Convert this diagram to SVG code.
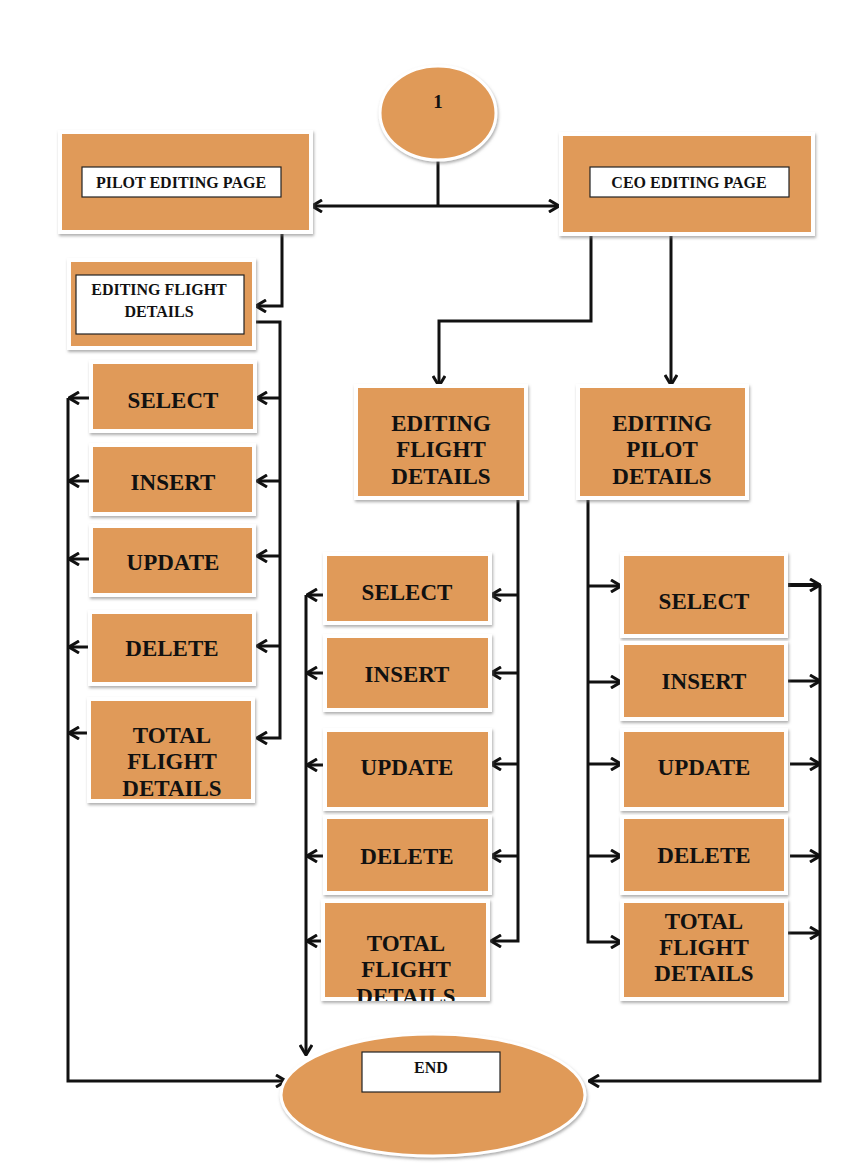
<svg xmlns="http://www.w3.org/2000/svg" width="850" height="1166" viewBox="0 0 850 1166">
<style>
.fr{fill:#fff;filter:url(#sh)}
.bx{fill:#E09A59}
.wb{fill:#fff;stroke:#222;stroke-width:1.2}
.t{font-family:"Liberation Serif","Times New Roman",serif;font-weight:bold;fill:#111;text-anchor:middle}
.big{font-size:23px}
.sm{font-size:16px}
.c{fill:none;stroke:#111;stroke-width:3}
.a{marker-end:url(#ar)}
</style>
<defs>
<filter id="sh" x="-10%" y="-10%" width="125%" height="130%">
<feDropShadow dx="1" dy="2" stdDeviation="1.5" flood-color="#777" flood-opacity="0.6"/>
</filter>
<marker id="ar" viewBox="0 0 12 14" refX="11" refY="7" markerWidth="12" markerHeight="14" markerUnits="userSpaceOnUse" orient="auto">
<path d="M1,1 L11,7 L1,13" fill="none" stroke="#111" stroke-width="3"/>
</marker>
<clipPath id="clipMT"><rect x="321" y="899" width="169" height="102"/></clipPath>
</defs>
<rect width="850" height="1166" fill="#fff"/>

<g id="connectors">
<path class="c" d="M438,160 V206"/>
<path class="c a" d="M438,206 H312"/>
<path class="c a" d="M438,206 H559"/>
<path class="c a" d="M282,234 V306 H256"/>
<path class="c a" d="M256,322 H280 V738 H257"/>
<path class="c a" d="M280,398 H257"/>
<path class="c a" d="M280,481 H257"/>
<path class="c a" d="M280,556 H257"/>
<path class="c a" d="M280,646 H257"/>
<path class="c a" d="M68,398 V1081 H286"/>
<path class="c a" d="M90,398 H69"/>
<path class="c a" d="M90,481 H69"/>
<path class="c a" d="M90,559 H69"/>
<path class="c a" d="M90,647 H69"/>
<path class="c a" d="M93,733 H69"/>
<path class="c a" d="M591,236 V321 H439 V386"/>
<path class="c a" d="M671,236 V385"/>
<path class="c a" d="M518,500 V941 H491"/>
<path class="c a" d="M518,595 H491"/>
<path class="c a" d="M518,673 H491"/>
<path class="c a" d="M518,764 H491"/>
<path class="c a" d="M518,856 H491"/>
<path class="c a" d="M306,595 V1055"/>
<path class="c a" d="M323,595 H307"/>
<path class="c a" d="M323,673 H307"/>
<path class="c a" d="M323,765 H307"/>
<path class="c a" d="M323,856 H307"/>
<path class="c a" d="M323,941 H307"/>
<path class="c a" d="M588,500 V942 H621"/>
<path class="c a" d="M588,586 H621"/>
<path class="c a" d="M588,682 H621"/>
<path class="c a" d="M588,764 H621"/>
<path class="c a" d="M588,856 H621"/>
<path class="c a" d="M787,585 H820" style="stroke-width:4"/>
<path class="c a" d="M787,681 H820"/>
<path class="c a" d="M790,764 H820"/>
<path class="c a" d="M790,856 H820"/>
<path class="c a" d="M787,933 H820"/>
<path class="c a" d="M820,585 V1081 H589"/>
</g>

<g id="start">
<ellipse cx="438" cy="113" rx="58" ry="47" fill="#E09A59" stroke="#fff" stroke-width="3" filter="url(#sh)"/>
<text class="t" x="438" y="108" style="font-size:19px">1</text>
</g>

<g id="pilot-editing-page">
<rect class="fr" x="58" y="130" width="255" height="104"/>
<rect class="bx" x="62" y="134" width="247" height="96"/>
<rect class="wb" x="82" y="167" width="199" height="30"/>
<text class="t sm" x="181" y="188">PILOT EDITING PAGE</text>
</g>

<g id="ceo-editing-page">
<rect class="fr" x="559" y="132" width="256" height="104"/>
<rect class="bx" x="563" y="136" width="248" height="96"/>
<rect class="wb" x="590" y="167" width="199" height="30"/>
<text class="t sm" x="689" y="188">CEO EDITING PAGE</text>
</g>

<g id="pilot-editing-flight-details">
<rect class="fr" x="67" y="258" width="189" height="92"/>
<rect class="bx" x="71" y="262" width="181" height="84"/>
<rect class="wb" x="76" y="275" width="168" height="59"/>
<text class="t sm" x="159" y="295">EDITING FLIGHT</text>
<text class="t sm" x="159" y="317">DETAILS</text>
</g>

<g id="left-select">
<rect class="fr" x="89" y="360" width="168" height="73"/>
<rect class="bx" x="93" y="364" width="160" height="65"/>
<text class="t big" x="173" y="408">SELECT</text>
</g>
<g id="left-insert">
<rect class="fr" x="89" y="443" width="167" height="73"/>
<rect class="bx" x="93" y="447" width="159" height="65"/>
<text class="t big" x="173" y="490">INSERT</text>
</g>
<g id="left-update">
<rect class="fr" x="89" y="524" width="167" height="73"/>
<rect class="bx" x="93" y="528" width="159" height="65"/>
<text class="t big" x="173" y="570">UPDATE</text>
</g>
<g id="left-delete">
<rect class="fr" x="88" y="610" width="168" height="76"/>
<rect class="bx" x="92" y="614" width="160" height="68"/>
<text class="t big" x="172" y="656">DELETE</text>
</g>
<g id="left-total">
<rect class="fr" x="87" y="697" width="168" height="106"/>
<rect class="bx" x="91" y="701" width="160" height="98"/>
<text class="t big" x="172" y="743">TOTAL</text>
<text class="t big" x="172" y="769">FLIGHT</text>
<text class="t big" x="172" y="796">DETAILS</text>
</g>

<g id="ceo-editing-flight-details">
<rect class="fr" x="354" y="384" width="174" height="116"/>
<rect class="bx" x="358" y="388" width="166" height="108"/>
<text class="t big" x="441" y="431">EDITING</text>
<text class="t big" x="441" y="457">FLIGHT</text>
<text class="t big" x="441" y="484">DETAILS</text>
</g>
<g id="ceo-editing-pilot-details">
<rect class="fr" x="576" y="384" width="173" height="116"/>
<rect class="bx" x="580" y="388" width="165" height="108"/>
<text class="t big" x="662" y="431">EDITING</text>
<text class="t big" x="662" y="457">PILOT</text>
<text class="t big" x="662" y="484">DETAILS</text>
</g>

<g id="mid-select">
<rect class="fr" x="323" y="552" width="169" height="73"/>
<rect class="bx" x="327" y="556" width="161" height="65"/>
<text class="t big" x="407" y="600">SELECT</text>
</g>
<g id="mid-insert">
<rect class="fr" x="323" y="634" width="169" height="78"/>
<rect class="bx" x="327" y="638" width="161" height="70"/>
<text class="t big" x="407" y="682">INSERT</text>
</g>
<g id="mid-update">
<rect class="fr" x="323" y="728" width="169" height="83"/>
<rect class="bx" x="327" y="732" width="161" height="75"/>
<text class="t big" x="407" y="775">UPDATE</text>
</g>
<g id="mid-delete">
<rect class="fr" x="323" y="815" width="169" height="80"/>
<rect class="bx" x="327" y="819" width="161" height="72"/>
<text class="t big" x="407" y="864">DELETE</text>
</g>
<g id="mid-total">
<rect class="fr" x="321" y="899" width="169" height="102"/>
<rect class="bx" x="325" y="903" width="161" height="94"/>
<g clip-path="url(#clipMT)">
<text class="t big" x="406" y="951">TOTAL</text>
<text class="t big" x="406" y="977">FLIGHT</text>
<text class="t big" x="406" y="1004">DETAILS</text>
</g>
</g>

<g id="right-select">
<rect class="fr" x="620" y="552" width="168" height="86"/>
<rect class="bx" x="624" y="556" width="160" height="78"/>
<text class="t big" x="704" y="609">SELECT</text>
</g>
<g id="right-insert">
<rect class="fr" x="620" y="641" width="168" height="80"/>
<rect class="bx" x="624" y="645" width="160" height="72"/>
<text class="t big" x="704" y="689">INSERT</text>
</g>
<g id="right-update">
<rect class="fr" x="620" y="728" width="168" height="83"/>
<rect class="bx" x="624" y="732" width="160" height="75"/>
<text class="t big" x="704" y="775">UPDATE</text>
</g>
<g id="right-delete">
<rect class="fr" x="620" y="815" width="168" height="80"/>
<rect class="bx" x="624" y="819" width="160" height="72"/>
<text class="t big" x="704" y="863">DELETE</text>
</g>
<g id="right-total">
<rect class="fr" x="620" y="899" width="168" height="102"/>
<rect class="bx" x="624" y="903" width="160" height="94"/>
<text class="t big" x="704" y="929">TOTAL</text>
<text class="t big" x="704" y="955">FLIGHT</text>
<text class="t big" x="704" y="981">DETAILS</text>
</g>

<g id="end">
<ellipse cx="433" cy="1095" rx="152" ry="61" fill="#E09A59" stroke="#fff" stroke-width="3" filter="url(#sh)"/>
<rect class="wb" x="362" y="1052" width="138" height="40"/>
<text class="t sm" x="431" y="1073">END</text>
</g>
</svg>
